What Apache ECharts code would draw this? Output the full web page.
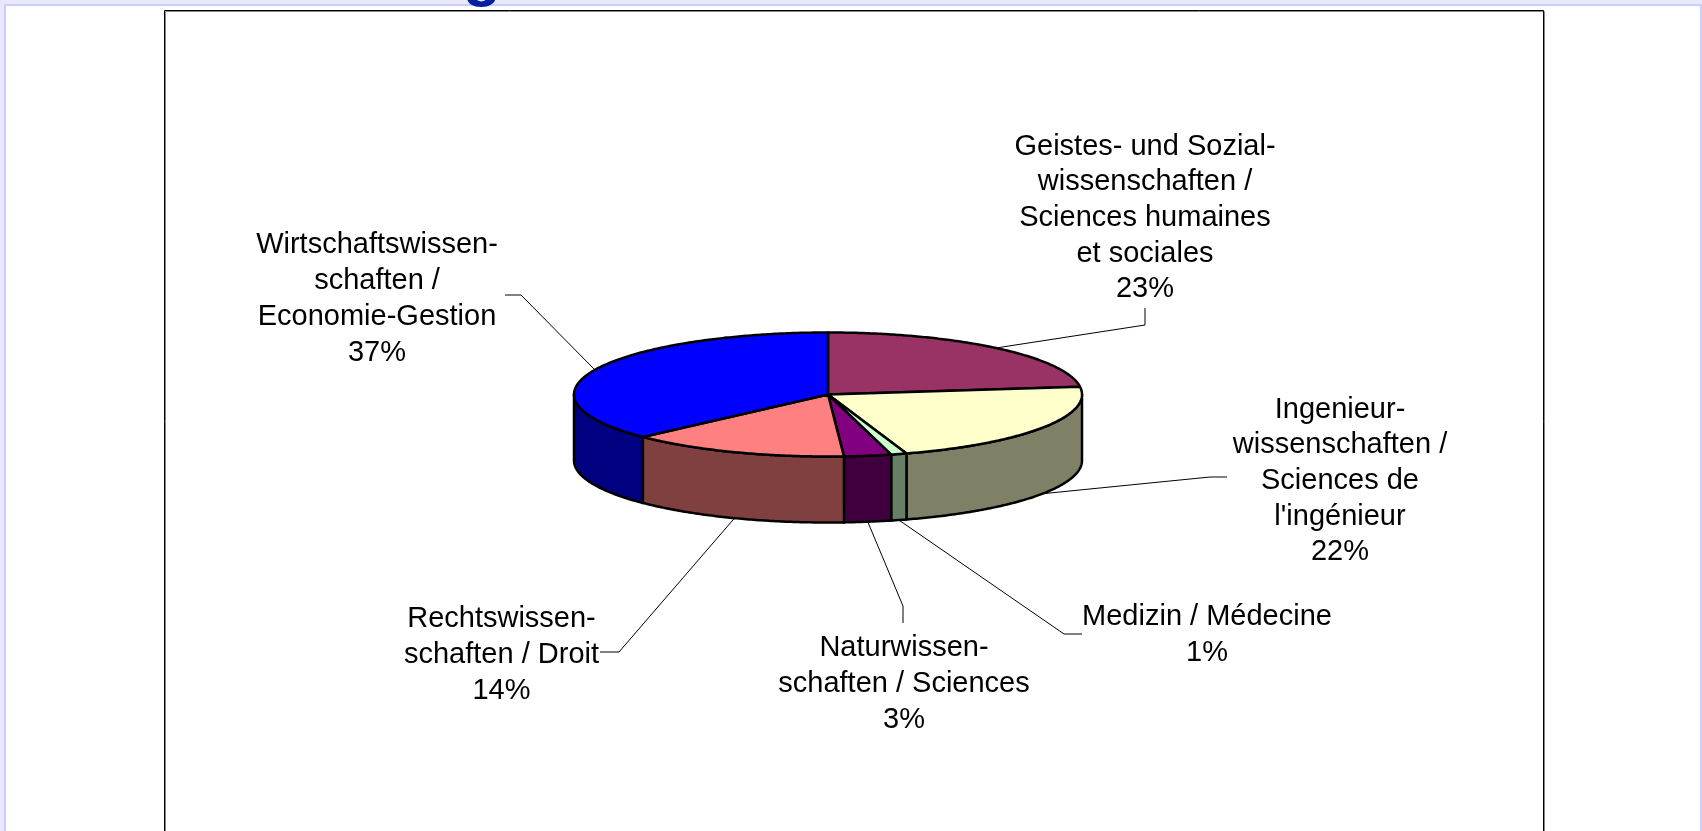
<!DOCTYPE html>
<html>
<head>
<meta charset="utf-8">
<title>Studienfächer</title>
<style>
  html, body { margin: 0; padding: 0; background: #fff; }
  #chart { width: 1702px; height: 831px; }
</style>
<script src="https://cdn.jsdelivr.net/npm/echarts@6/dist/echarts.min.js"></script>
</head>
<body>
<div id="chart"></div>
<script>
const categories = [
  'Geistes- und Sozial-\nwissenschaften /\nSciences humaines\net sociales',
  'Ingenieur-\nwissenschaften /\nSciences de\nl\'ingénieur',
  'Medizin / Médecine',
  'Naturwissen-\nschaften / Sciences',
  'Rechtswissen-\nschaften / Droit',
  'Wirtschaftswissen-\nschaften /\nEconomie-Gestion'
];
const shares = [23, 22, 1, 3, 14, 37];
const topColors = ['#993366', '#ffffcc', '#ccffcc', '#800080', '#ff8080', '#0000ff'];
const sideColors = ['#4c1a33', '#808066', '#668066', '#400040', '#804040', '#000080'];

// label block centre and the leader elbow/end points, one row per category
const labelCenters = [[1145, 218], [1340, 481], [1207, 635], [904, 684], [501.5, 655], [377, 299]];
const leaderBends = [
  [[1145, 325], [1145, 308]],
  [[1210, 477], [1227, 477]],
  [[1064, 634], [1082, 634]],
  [[903, 606], [903, 623]],
  [[619, 652], [600, 652]],
  [[521, 295], [505, 295]]
];

const pie = { cx: 828, cy: 394.5, rx: 254, ry: 62, depth: 66 };
const total = shares.reduce((a, b) => a + b, 0);
const rows = [];
let running = 0;
shares.forEach((v) => {
  rows.push([v, running]);
  running += v;
});

// 0 = 12 o'clock, clockwise, flattened on the ellipse
function rim(theta, dy) {
  return [pie.cx + pie.rx * Math.sin(theta), pie.cy - pie.ry * Math.cos(theta) + (dy || 0)];
}

function arcPoints(a0, a1, dy) {
  const steps = Math.max(2, Math.ceil((a1 - a0) / 0.01));
  const pts = [];
  for (let i = 0; i <= steps; i++) {
    pts.push(rim(a0 + (a1 - a0) * i / steps, dy));
  }
  return pts;
}

function sliceAngles(api) {
  const a0 = api.value(1) / total * Math.PI * 2;
  return [a0, a0 + api.value(0) / total * Math.PI * 2];
}

const outline = { stroke: '#000', lineWidth: 2.5, lineJoin: 'round' };

function renderSide(params, api) {
  const [a0, a1] = sliceAngles(api);
  const from = Math.max(a0, Math.PI / 2);
  const to = Math.min(a1, Math.PI * 1.5);
  if (to <= from) return { type: 'group', children: [] };
  const points = arcPoints(from, to, 0).concat(arcPoints(from, to, pie.depth).reverse());
  return {
    type: 'polygon',
    shape: { points },
    style: Object.assign({ fill: sideColors[params.dataIndex] }, outline)
  };
}

function renderTop(params, api) {
  const [a0, a1] = sliceAngles(api);
  const points = [[pie.cx, pie.cy]].concat(arcPoints(a0, a1, 0));
  return {
    type: 'polygon',
    shape: { points },
    style: Object.assign({ fill: topColors[params.dataIndex] }, outline)
  };
}

function renderLabel(params, api) {
  const [a0, a1] = sliceAngles(api);
  const mid = (a0 + a1) / 2;
  const front = Math.cos(mid) < 0;
  const start = rim(mid, front ? pie.depth : 0);
  const center = labelCenters[params.dataIndex];
  return {
    type: 'group',
    children: [
      {
        type: 'polyline',
        shape: { points: [start].concat(leaderBends[params.dataIndex]) },
        style: { stroke: '#000', lineWidth: 1, fill: null }
      },
      {
        type: 'text',
        x: center[0],
        y: center[1],
        style: {
          text: categories[params.dataIndex] + '\n' + api.value(0) + '%',
          fill: '#000',
          font: '29px "Liberation Sans", Arial, sans-serif',
          lineHeight: 35.7,
          align: 'center',
          verticalAlign: 'middle'
        }
      }
    ]
  };
}

const chart = echarts.init(document.getElementById('chart'), null, { renderer: 'canvas' });

chart.setOption({
  animation: false,
  backgroundColor: '#ffffff',
  graphic: {
    elements: [
      // page frame
      { type: 'rect', silent: true, shape: { x: 0, y: 0, width: 1702, height: 4 }, style: { fill: '#e8e8ff' } },
      { type: 'rect', silent: true, shape: { x: 0, y: 0, width: 4, height: 831 }, style: { fill: '#e8e8ff' } },
      { type: 'rect', silent: true, shape: { x: 4, y: 4, width: 1698, height: 2 }, style: { fill: '#ccccff' } },
      { type: 'rect', silent: true, shape: { x: 4, y: 4, width: 2, height: 827 }, style: { fill: '#ccccff' } },
      { type: 'rect', silent: true, shape: { x: 1700, y: 4, width: 2, height: 827 }, style: { fill: '#ccccff' } },
      // chart box runs off the bottom of the window
      { type: 'rect', silent: true, shape: { x: 165.5, y: 11.5, width: 1379, height: 840 }, style: { fill: 'none', stroke: '#888', lineWidth: 1 } },
      { type: 'rect', silent: true, shape: { x: 164.5, y: 10.5, width: 1379, height: 840 }, style: { fill: 'none', stroke: '#000', lineWidth: 1 } },
      // tail of the page heading, cut off by the window
      {
        type: 'text', silent: true, x: 482, y: -54,
        style: { text: 'g', fill: '#00209f', font: 'bold 62px "Liberation Sans", Arial, sans-serif', align: 'center', verticalAlign: 'top' }
      }
    ]
  },
  series: [
    { type: 'custom', coordinateSystem: 'none', silent: true, z: 2, data: rows, renderItem: renderSide },
    { type: 'custom', coordinateSystem: 'none', silent: true, z: 3, data: rows, renderItem: renderTop },
    { type: 'custom', coordinateSystem: 'none', silent: true, z: 1, data: rows, renderItem: renderLabel }
  ]
});

window.addEventListener('resize', () => chart.resize());
</script>
</body>
</html>
